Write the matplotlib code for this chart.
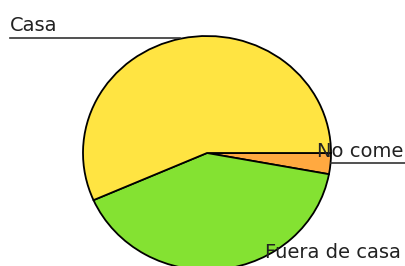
import matplotlib
matplotlib.use('Agg')
import matplotlib.pyplot as plt

# datos (porcentajes aproximados)
labels = ['No come', 'Fuera de casa', 'Casa']
values = [2.9, 40.5, 56.6]
colors = ['#FFA940', '#84E232', '#FFE442']

W, H = 406, 266
fig = plt.figure(figsize=(W / 100, H / 100), dpi=100)

# ejes del pastel (algo achatado, como en el original)
ax = fig.add_axes([83 / W, -4 / H, 248 / W, 234 / H])
ax.pie(values, colors=colors, startangle=0, counterclock=False,
       wedgeprops={'edgecolor': 'black', 'linewidth': 1.3})
ax.set_xlim(-1, 1)
ax.set_ylim(-1, 1)
ax.set_aspect('auto')
ax.axis('off')

# capa de etiquetas en coordenadas de pixel
lay = fig.add_axes([0, 0, 1, 1])
lay.set_xlim(0, W)
lay.set_ylim(H, 0)
lay.axis('off')
lay.patch.set_alpha(0)

# etiquetas: (x, y base, línea guía)
label_pos = {
    'Casa': (10, 31, (10, 180, 38)),
    'No come': (317, 157, (331, 405, 163)),
    'Fuera de casa': (265, 258, None),
}
for name in labels:
    x, y, line = label_pos[name]
    lay.text(x, y, name, fontsize=14, color='#222222', ha='left', va='baseline',
             family='DejaVu Sans')
    if line is not None:
        lay.plot([line[0], line[1]], [line[2], line[2]], color='#333333', lw=1.2)

plt.savefig('out.png', dpi=100)
plt.close()
